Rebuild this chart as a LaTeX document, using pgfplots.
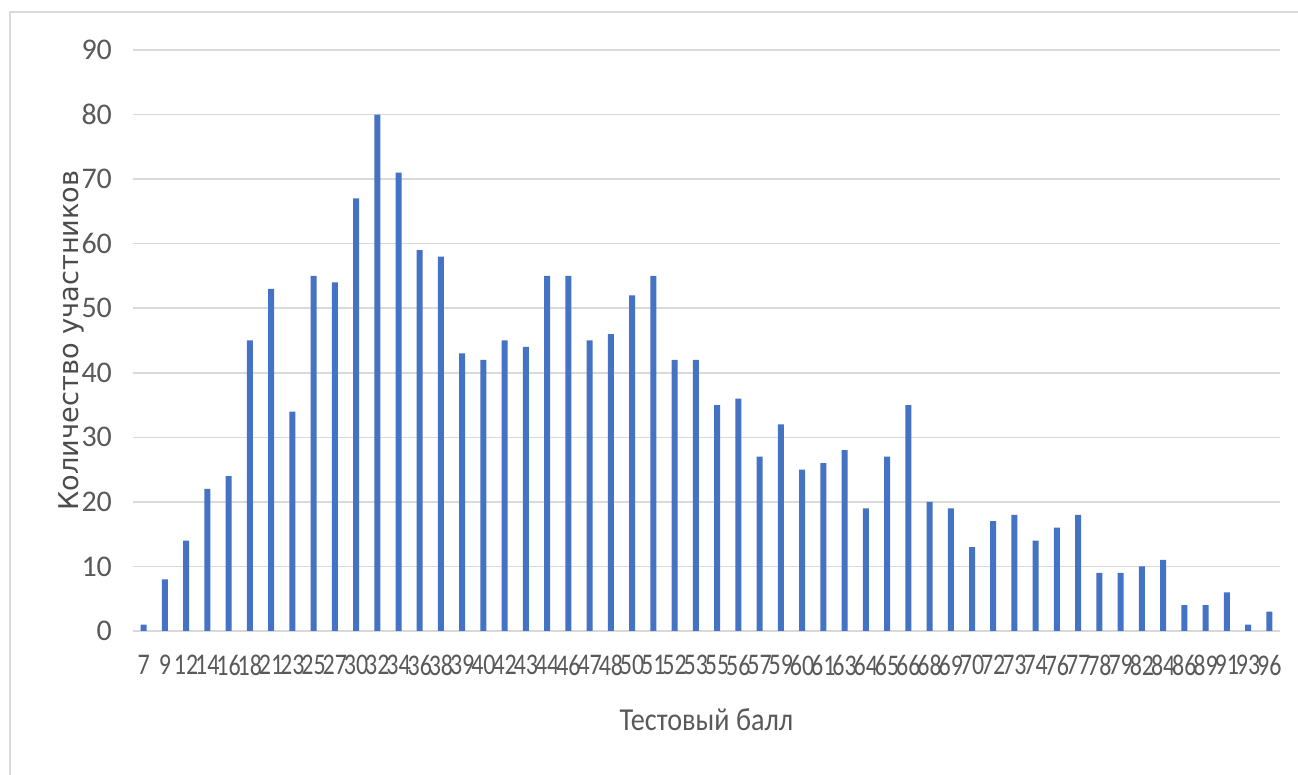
\documentclass[border=0pt]{standalone}
\usepackage{pgfplots}
\pgfplotsset{compat=1.18}
\usepackage{fontspec}
\setmainfont{Carlito}
\newfontfamily\ylabfont{DejaVu Sans}
\definecolor{barblue}{HTML}{4472C4}
\definecolor{gridgray}{HTML}{D9D9D9}
\definecolor{txtgray}{HTML}{595959}
\begin{document}
\begin{tikzpicture}
\path[use as bounding box] (0,0) rectangle (649pt,387.5pt);
\draw[gridgray, line width=1pt] (5pt,0) -- (5pt,381.5pt) -- (649pt,381.5pt);
\begin{axis}[
  at={(66.5pt,72pt)}, anchor=south west,
  scale only axis, width=573.5pt, height=290.5pt,
  xmin=-0.5, xmax=53.5, ymin=0, ymax=90,
  ytick={0,10,...,90},
  xtick=data,
  xticklabels={7,9,12,14,16,18,21,23,25,27,30,32,34,36,38,39,40,42,43,44,46,47,48,50,51,52,53,55,56,57,59,60,61,63,64,65,66,68,69,70,72,73,74,76,77,78,79,82,84,86,89,91,93,96},
  axis lines*=left,
  axis line style={-},
  x axis line style={draw=gridgray, line width=1pt},
  y axis line style={draw=none},
  major tick length=0pt,
  ymajorgrids, grid style={gridgray, line width=0.75pt},
  /pgf/number format/assume math mode=true,
  tick label style={font=\fontsize{15}{17}\selectfont, text=txtgray},
  xticklabel style={xscale=0.8, yshift=-8.5pt, inner xsep=0pt},
  yticklabel style={xshift=-7pt},
  every axis x label/.style={at={(axis description cs:0.5,-0.153)}, anchor=center},
  every axis y label/.style={at={(axis description cs:-0.0533,0.5)}, rotate=90, anchor=center},
  xlabel={Тестовый балл},
  xlabel style={font=\fontsize{16}{19}\selectfont, text=txtgray, xscale=0.88},
  ylabel={\ylabfont Количество участников},
  ylabel style={font=\fontsize{13.6}{16}\selectfont, text=black!70},
]
\addplot[ybar, bar width=3pt, fill=barblue, draw=none] coordinates {
(0,1)(1,8)(2,14)(3,22)(4,24)(5,45)(6,53)(7,34)(8,55)(9,54)
(10,67)(11,80)(12,71)(13,59)(14,58)(15,43)(16,42)(17,45)(18,44)(19,55)
(20,55)(21,45)(22,46)(23,52)(24,55)(25,42)(26,42)(27,35)(28,36)(29,27)
(30,32)(31,25)(32,26)(33,28)(34,19)(35,27)(36,35)(37,20)(38,19)(39,13)
(40,17)(41,18)(42,14)(43,16)(44,18)(45,9)(46,9)(47,10)(48,11)(49,4)
(50,4)(51,6)(52,1)(53,3)};
\end{axis}
\end{tikzpicture}
\end{document}
